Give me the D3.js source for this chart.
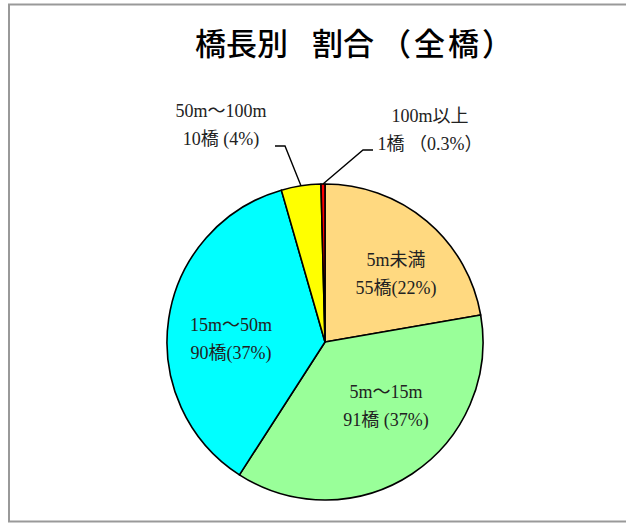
<!DOCTYPE html>
<html>
<head>
<meta charset="utf-8">
<script src="https://cdn.jsdelivr.net/npm/d3@7"></script>
<style>
  body { margin: 0; background: #fff; }
  svg { display: block; }
</style>
</head>
<body>
<div id="chart"></div>
<script>
// ------------------------------------------------------------
// 橋長別 割合（全橋） — pie chart
// ------------------------------------------------------------

const categories = ['5m未満', '5m～15m', '15m～50m', '50m～100m', '100m以上'];
const counts = [55, 91, 90, 10, 1];
const countLabels = ['55橋(22%)', '91橋 (37%)', '90橋(37%)', '10橋 (4%)', '1橋 （0.3%）'];

const sliceColors = ['#ffd980', '#99ff99', '#00ffff', '#ffff00', '#ff0000'];

const W = 626, H = 525;
const cx = 325, cy = 342, R = 158;

const svg = d3.select('#chart').append('svg')
  .attr('width', W).attr('height', H);

// chart frame (right edge runs off the picture)
svg.append('rect')
  .attr('x', 9).attr('y', 4.5)
  .attr('width', 660).attr('height', 517)
  .attr('fill', '#fff')
  .attr('stroke', '#999').attr('stroke-width', 2);

// title
const title = svg.append('text')
  .attr('x', 195).attr('y', 55)
  .style('font-family', '"Noto Sans CJK JP", sans-serif')
  .style('font-size', '31px').style('font-weight', '500')
  .style('fill', '#000');
title.append('tspan').text('橋長別');
title.append('tspan').attr('dx', 24).text('割合');
title.append('tspan').attr('dx', 6).style('letter-spacing', '3px').text('（全橋）');

const data = categories.map((c, i) => ({ cat: c, n: counts[i], lab: countLabels[i], col: sliceColors[i] }));

const pie = d3.pie().value(d => d.n).sort(null);
const arcs = pie(data);
const arc = d3.arc().innerRadius(0).outerRadius(R);

const g = svg.append('g').attr('transform', `translate(${cx},${cy})`);

g.selectAll('path')
  .data(arcs)
  .join('path')
  .attr('d', arc)
  .attr('fill', d => d.data.col)
  .attr('stroke', '#000')
  .attr('stroke-width', 1.6)
  .attr('stroke-linejoin', 'round');

// label layout: centre of each two-line label, relative to pie centre
// elbow/end = leader line points for the two small slices
const labelLayout = [
  { dx: 71, dy: -68 },
  { dx: 61, dy: 64 },
  { dx: -94, dy: -3 },
  { dx: -104, dy: -217, elbow: [-40, -196], end: [-50, -196] },
  { dx: 105, dy: -212, elbow: [38, -192], end: [48, -192] }
];

const fontStack = '"Liberation Serif", "DejaVu Serif", "Noto Sans CJK JP", serif';

arcs.forEach((a, i) => {
  const L = labelLayout[i];

  if (L.elbow) {
    const mid = (a.startAngle + a.endAngle) / 2;
    const sx = Math.sin(mid) * R, sy = -Math.cos(mid) * R;
    g.append('path')
      .attr('d', d3.line()([[sx, sy], L.elbow, L.end]))
      .attr('fill', 'none')
      .attr('stroke', '#000')
      .attr('stroke-width', 1.4);
  }

  const t = g.append('text')
    .attr('text-anchor', 'middle')
    .style('font-family', fontStack)
    .style('font-size', '18px')
    .style('fill', '#222');
  t.append('tspan').attr('x', L.dx).attr('y', L.dy - 14 + 6).text(a.data.cat);
  t.append('tspan').attr('x', L.dx).attr('y', L.dy + 14 + 6).text(a.data.lab);
});
</script>
</body>
</html>
